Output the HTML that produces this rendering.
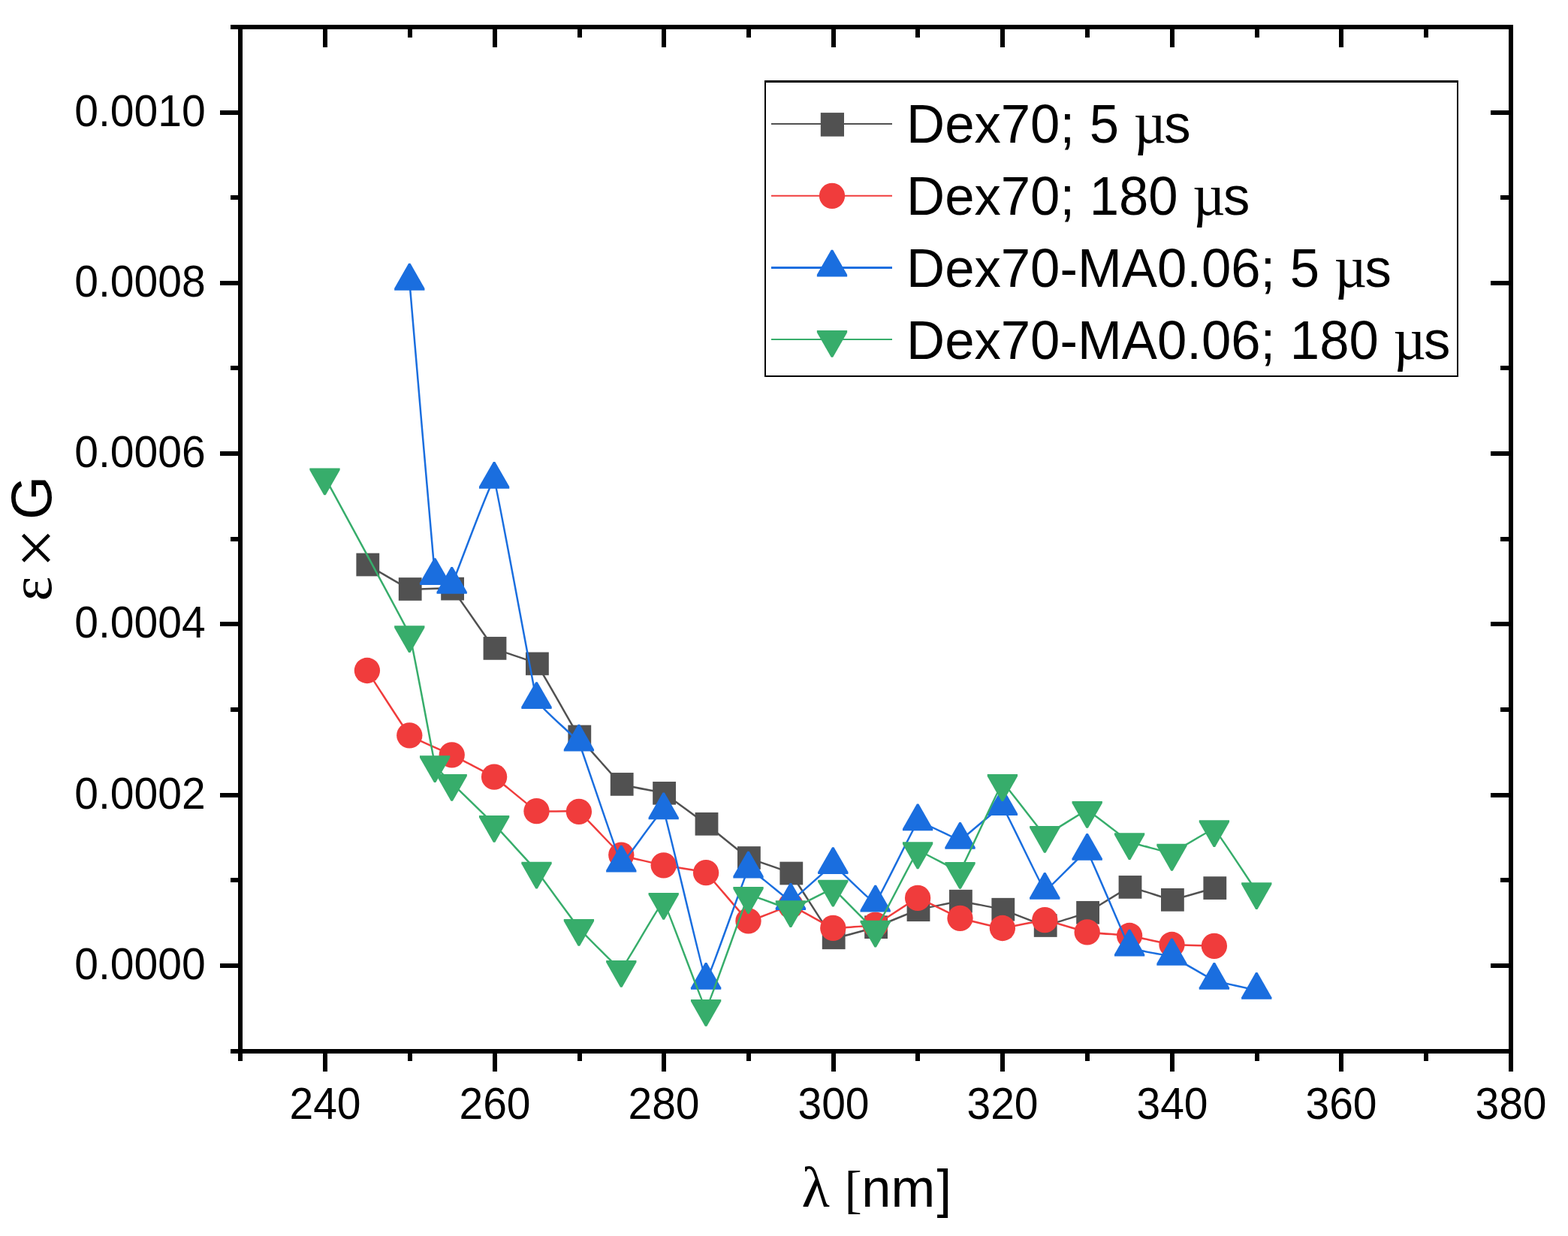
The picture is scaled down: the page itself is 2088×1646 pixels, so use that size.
<!DOCTYPE html>
<html lang="en">
<head>
<meta charset="utf-8">
<title>ε×G vs λ [nm]</title>
<style>
html, body { margin: 0; padding: 0; background: #ffffff; }
body { width: 2088px; height: 1646px; overflow: hidden; font-family: "Liberation Sans", Arial, sans-serif; }
svg { display: block; }
</style>
</head>
<body>
<svg width="2088" height="1646" viewBox="0 0 2088 1646">
<rect x="0" y="0" width="2088" height="1646" fill="#ffffff"/>
<g class="series" fill="#515151" stroke="none">
<path d="M488.9,752 C491.72,753.62 542.48,783.7 545.3,784.5 C548.12,785.3 598.88,782.13 601.7,784.1 C604.52,786.07 655.28,860.9 658.1,863.4 C660.92,865.89 711.68,880.96 714.5,883.9 C717.32,886.84 768.08,976.99 770.9,981 C773.72,985.01 824.48,1042.52 827.3,1044.4 C830.12,1046.28 880.88,1054.98 883.7,1056.3 C886.52,1057.62 937.28,1095.14 940.1,1097.3 C942.92,1099.45 993.68,1140.86 996.5,1142.5 C999.32,1144.14 1050.08,1160.34 1052.9,1163 C1055.72,1165.66 1106.48,1247.01 1109.3,1248.8 C1112.12,1250.59 1162.88,1235.63 1165.7,1234.7 C1168.52,1233.77 1219.28,1212.56 1222.1,1211.7 C1224.92,1210.84 1275.68,1200.21 1278.5,1200.2 C1281.32,1200.19 1332.08,1210.39 1334.9,1211.2 C1337.72,1212.01 1388.48,1232.4 1391.3,1232.5 C1394.12,1232.6 1444.88,1216.58 1447.7,1215.3 C1450.52,1214.02 1501.28,1181.83 1504.1,1181.4 C1506.92,1180.98 1557.68,1198.27 1560.5,1198.3 C1563.32,1198.33 1614.08,1183.38 1616.9,1182.6" fill="none" stroke="#515151" stroke-width="2.5" stroke-linejoin="round"/>
<rect x="474.4" y="736.65" width="30.8" height="30.7"/>
<rect x="530.8" y="769.15" width="30.8" height="30.7"/>
<rect x="587.2" y="768.75" width="30.8" height="30.7"/>
<rect x="643.6" y="848.05" width="30.8" height="30.7"/>
<rect x="700" y="868.55" width="30.8" height="30.7"/>
<rect x="756.4" y="965.65" width="30.8" height="30.7"/>
<rect x="812.8" y="1029.05" width="30.8" height="30.7"/>
<rect x="869.2" y="1040.95" width="30.8" height="30.7"/>
<rect x="925.6" y="1081.95" width="30.8" height="30.7"/>
<rect x="982" y="1127.15" width="30.8" height="30.7"/>
<rect x="1038.4" y="1147.65" width="30.8" height="30.7"/>
<rect x="1094.8" y="1233.45" width="30.8" height="30.7"/>
<rect x="1151.2" y="1219.35" width="30.8" height="30.7"/>
<rect x="1207.6" y="1196.35" width="30.8" height="30.7"/>
<rect x="1264" y="1184.85" width="30.8" height="30.7"/>
<rect x="1320.4" y="1195.85" width="30.8" height="30.7"/>
<rect x="1376.8" y="1217.15" width="30.8" height="30.7"/>
<rect x="1433.2" y="1199.95" width="30.8" height="30.7"/>
<rect x="1489.6" y="1166.05" width="30.8" height="30.7"/>
<rect x="1546" y="1182.95" width="30.8" height="30.7"/>
<rect x="1602.4" y="1167.25" width="30.8" height="30.7"/>
</g>
<g class="series" fill="#F03C3C" stroke="none">
<path d="M488.9,893 C491.72,897.32 542.48,976.49 545.3,979.3 C548.12,982.11 598.88,1003.92 601.7,1005.3 C604.52,1006.68 655.28,1032.73 658.1,1034.6 C660.92,1036.47 711.68,1079.04 714.5,1080.2 C717.32,1081.36 768.08,1079.44 770.9,1080.9 C773.72,1082.36 824.48,1136.81 827.3,1138.6 C830.12,1140.38 880.88,1151.71 883.7,1152.3 C886.52,1152.89 937.28,1160.35 940.1,1162.2 C942.92,1164.05 993.68,1225.31 996.5,1226.4 C999.32,1227.5 1050.08,1205.76 1052.9,1206 C1055.72,1206.24 1106.48,1235.26 1109.3,1235.9 C1112.12,1236.54 1162.88,1232.6 1165.7,1231.6 C1168.52,1230.6 1219.28,1196.12 1222.1,1195.9 C1224.92,1195.68 1275.68,1221.8 1278.5,1222.8 C1281.32,1223.8 1332.08,1235.94 1334.9,1236 C1337.72,1236.06 1388.48,1225.07 1391.3,1225.2 C1394.12,1225.34 1444.88,1240.88 1447.7,1241.4 C1450.52,1241.92 1501.28,1245.59 1504.1,1246 C1506.92,1246.41 1557.68,1257.65 1560.5,1258 C1563.32,1258.35 1614.08,1259.71 1616.9,1259.8" fill="none" stroke="#F03C3C" stroke-width="2.5" stroke-linejoin="round"/>
<circle cx="488.9" cy="893" r="17.15"/>
<circle cx="545.3" cy="979.3" r="17.15"/>
<circle cx="601.7" cy="1005.3" r="17.15"/>
<circle cx="658.1" cy="1034.6" r="17.15"/>
<circle cx="714.5" cy="1080.2" r="17.15"/>
<circle cx="770.9" cy="1080.9" r="17.15"/>
<circle cx="827.3" cy="1138.6" r="17.15"/>
<circle cx="883.7" cy="1152.3" r="17.15"/>
<circle cx="940.1" cy="1162.2" r="17.15"/>
<circle cx="996.5" cy="1226.4" r="17.15"/>
<circle cx="1052.9" cy="1206" r="17.15"/>
<circle cx="1109.3" cy="1235.9" r="17.15"/>
<circle cx="1165.7" cy="1231.6" r="17.15"/>
<circle cx="1222.1" cy="1195.9" r="17.15"/>
<circle cx="1278.5" cy="1222.8" r="17.15"/>
<circle cx="1334.9" cy="1236" r="17.15"/>
<circle cx="1391.3" cy="1225.2" r="17.15"/>
<circle cx="1447.7" cy="1241.4" r="17.15"/>
<circle cx="1504.1" cy="1246" r="17.15"/>
<circle cx="1560.5" cy="1258" r="17.15"/>
<circle cx="1616.9" cy="1259.8" r="17.15"/>
</g>
<g class="series" fill="#1A6EDF" stroke="none">
<path d="M545.3,374.72 C546.99,394.33 577.73,756.91 579.14,767.02 C580.55,777.12 599.73,782.07 601.7,778.87 C603.67,775.66 655.28,634.94 658.1,638.77 C660.92,642.6 711.68,923.27 714.5,932.02 C717.32,940.76 768.08,983.23 770.9,988.67 C773.72,994.11 824.48,1147.35 827.3,1149.62 C830.12,1151.89 880.88,1075.51 883.7,1079.42 C886.52,1083.32 937.28,1303.86 940.1,1305.82 C942.92,1307.77 993.68,1160.16 996.5,1157.52 C999.32,1154.87 1050.08,1200.1 1052.9,1199.97 C1055.72,1199.83 1106.48,1151.95 1109.3,1152.02 C1112.12,1152.08 1162.88,1204.01 1165.7,1202.57 C1168.52,1201.12 1219.28,1096.41 1222.1,1094.32 C1224.92,1092.22 1275.68,1119.37 1278.5,1118.87 C1281.32,1118.36 1332.08,1072.39 1334.9,1074.07 C1337.72,1075.74 1388.48,1184.32 1391.3,1185.82 C1394.12,1187.31 1444.88,1131.97 1447.7,1133.87 C1450.52,1135.76 1501.28,1258.12 1504.1,1261.62 C1506.92,1265.11 1557.68,1272.61 1560.5,1273.72 C1563.32,1274.82 1614.08,1304.79 1616.9,1305.92 C1619.72,1307.04 1670.48,1318.17 1673.3,1318.82" fill="none" stroke="#1A6EDF" stroke-width="2.5" stroke-linejoin="round"/>
<polygon points="544.1,350.85 546.5,350.85 565.45,384.05 565.45,386.65 525.15,386.65 525.15,384.05"/>
<polygon points="577.94,743.15 580.34,743.15 599.29,776.35 599.29,778.95 558.99,778.95 558.99,776.35"/>
<polygon points="600.5,755 602.9,755 621.85,788.2 621.85,790.8 581.55,790.8 581.55,788.2"/>
<polygon points="656.9,614.9 659.3,614.9 678.25,648.1 678.25,650.7 637.95,650.7 637.95,648.1"/>
<polygon points="713.3,908.15 715.7,908.15 734.65,941.35 734.65,943.95 694.35,943.95 694.35,941.35"/>
<polygon points="769.7,964.8 772.1,964.8 791.05,998 791.05,1000.6 750.75,1000.6 750.75,998"/>
<polygon points="826.1,1125.75 828.5,1125.75 847.45,1158.95 847.45,1161.55 807.15,1161.55 807.15,1158.95"/>
<polygon points="882.5,1055.55 884.9,1055.55 903.85,1088.75 903.85,1091.35 863.55,1091.35 863.55,1088.75"/>
<polygon points="938.9,1281.95 941.3,1281.95 960.25,1315.15 960.25,1317.75 919.95,1317.75 919.95,1315.15"/>
<polygon points="995.3,1133.65 997.7,1133.65 1016.65,1166.85 1016.65,1169.45 976.35,1169.45 976.35,1166.85"/>
<polygon points="1051.7,1176.1 1054.1,1176.1 1073.05,1209.3 1073.05,1211.9 1032.75,1211.9 1032.75,1209.3"/>
<polygon points="1108.1,1128.15 1110.5,1128.15 1129.45,1161.35 1129.45,1163.95 1089.15,1163.95 1089.15,1161.35"/>
<polygon points="1164.5,1178.7 1166.9,1178.7 1185.85,1211.9 1185.85,1214.5 1145.55,1214.5 1145.55,1211.9"/>
<polygon points="1220.9,1070.45 1223.3,1070.45 1242.25,1103.65 1242.25,1106.25 1201.95,1106.25 1201.95,1103.65"/>
<polygon points="1277.3,1095 1279.7,1095 1298.65,1128.2 1298.65,1130.8 1258.35,1130.8 1258.35,1128.2"/>
<polygon points="1333.7,1050.2 1336.1,1050.2 1355.05,1083.4 1355.05,1086 1314.75,1086 1314.75,1083.4"/>
<polygon points="1390.1,1161.95 1392.5,1161.95 1411.45,1195.15 1411.45,1197.75 1371.15,1197.75 1371.15,1195.15"/>
<polygon points="1446.5,1110 1448.9,1110 1467.85,1143.2 1467.85,1145.8 1427.55,1145.8 1427.55,1143.2"/>
<polygon points="1502.9,1237.75 1505.3,1237.75 1524.25,1270.95 1524.25,1273.55 1483.95,1273.55 1483.95,1270.95"/>
<polygon points="1559.3,1249.85 1561.7,1249.85 1580.65,1283.05 1580.65,1285.65 1540.35,1285.65 1540.35,1283.05"/>
<polygon points="1615.7,1282.05 1618.1,1282.05 1637.05,1315.25 1637.05,1317.85 1596.75,1317.85 1596.75,1315.25"/>
<polygon points="1672.1,1294.95 1674.5,1294.95 1693.45,1328.15 1693.45,1330.75 1653.15,1330.75 1653.15,1328.15"/>
</g>
<g class="series" fill="#37AD6B" stroke="none">
<path d="M432.5,635.33 C438.14,645.83 541.63,835.66 545.3,845.23 C548.97,854.81 577.73,1013.29 579.14,1018.23 C580.55,1023.17 599.73,1040.84 601.7,1042.83 C603.67,1044.83 655.28,1095.01 658.1,1097.93 C660.92,1100.85 711.68,1156.13 714.5,1159.58 C717.32,1163.03 768.08,1232.7 770.9,1235.98 C773.72,1239.26 824.48,1291.71 827.3,1290.83 C830.12,1289.96 880.88,1199.63 883.7,1200.93 C886.52,1202.24 937.28,1343.13 940.1,1342.93 C942.92,1342.74 993.68,1196.33 996.5,1193.03 C999.32,1189.74 1050.08,1211.37 1052.9,1211.13 C1055.72,1210.9 1106.48,1183.02 1109.3,1183.68 C1112.12,1184.35 1162.88,1238.89 1165.7,1237.63 C1168.52,1236.37 1219.28,1135.23 1222.1,1133.28 C1224.92,1131.34 1275.68,1162.09 1278.5,1159.83 C1281.32,1157.58 1332.08,1044.23 1334.9,1043.03 C1337.72,1041.84 1388.48,1111.04 1391.3,1111.93 C1394.12,1112.83 1444.88,1078.7 1447.7,1078.93 C1450.52,1079.16 1501.28,1119.66 1504.1,1121.08 C1506.92,1122.5 1557.68,1136.21 1560.5,1135.78 C1563.32,1135.36 1614.08,1102.8 1616.9,1104.08 C1619.72,1105.37 1670.48,1183.03 1673.3,1187.18" fill="none" stroke="#37AD6B" stroke-width="2.5" stroke-linejoin="round"/>
<polygon points="412.35,623.4 452.65,623.4 452.65,626 433.7,659.2 431.3,659.2 412.35,626"/>
<polygon points="525.15,833.3 565.45,833.3 565.45,835.9 546.5,869.1 544.1,869.1 525.15,835.9"/>
<polygon points="558.99,1006.3 599.29,1006.3 599.29,1008.9 580.34,1042.1 577.94,1042.1 558.99,1008.9"/>
<polygon points="581.55,1030.9 621.85,1030.9 621.85,1033.5 602.9,1066.7 600.5,1066.7 581.55,1033.5"/>
<polygon points="637.95,1086 678.25,1086 678.25,1088.6 659.3,1121.8 656.9,1121.8 637.95,1088.6"/>
<polygon points="694.35,1147.65 734.65,1147.65 734.65,1150.25 715.7,1183.45 713.3,1183.45 694.35,1150.25"/>
<polygon points="750.75,1224.05 791.05,1224.05 791.05,1226.65 772.1,1259.85 769.7,1259.85 750.75,1226.65"/>
<polygon points="807.15,1278.9 847.45,1278.9 847.45,1281.5 828.5,1314.7 826.1,1314.7 807.15,1281.5"/>
<polygon points="863.55,1189 903.85,1189 903.85,1191.6 884.9,1224.8 882.5,1224.8 863.55,1191.6"/>
<polygon points="919.95,1331 960.25,1331 960.25,1333.6 941.3,1366.8 938.9,1366.8 919.95,1333.6"/>
<polygon points="976.35,1181.1 1016.65,1181.1 1016.65,1183.7 997.7,1216.9 995.3,1216.9 976.35,1183.7"/>
<polygon points="1032.75,1199.2 1073.05,1199.2 1073.05,1201.8 1054.1,1235 1051.7,1235 1032.75,1201.8"/>
<polygon points="1089.15,1171.75 1129.45,1171.75 1129.45,1174.35 1110.5,1207.55 1108.1,1207.55 1089.15,1174.35"/>
<polygon points="1145.55,1225.7 1185.85,1225.7 1185.85,1228.3 1166.9,1261.5 1164.5,1261.5 1145.55,1228.3"/>
<polygon points="1201.95,1121.35 1242.25,1121.35 1242.25,1123.95 1223.3,1157.15 1220.9,1157.15 1201.95,1123.95"/>
<polygon points="1258.35,1147.9 1298.65,1147.9 1298.65,1150.5 1279.7,1183.7 1277.3,1183.7 1258.35,1150.5"/>
<polygon points="1314.75,1031.1 1355.05,1031.1 1355.05,1033.7 1336.1,1066.9 1333.7,1066.9 1314.75,1033.7"/>
<polygon points="1371.15,1100 1411.45,1100 1411.45,1102.6 1392.5,1135.8 1390.1,1135.8 1371.15,1102.6"/>
<polygon points="1427.55,1067 1467.85,1067 1467.85,1069.6 1448.9,1102.8 1446.5,1102.8 1427.55,1069.6"/>
<polygon points="1483.95,1109.15 1524.25,1109.15 1524.25,1111.75 1505.3,1144.95 1502.9,1144.95 1483.95,1111.75"/>
<polygon points="1540.35,1123.85 1580.65,1123.85 1580.65,1126.45 1561.7,1159.65 1559.3,1159.65 1540.35,1126.45"/>
<polygon points="1596.75,1092.15 1637.05,1092.15 1637.05,1094.75 1618.1,1127.95 1615.7,1127.95 1596.75,1094.75"/>
<polygon points="1653.15,1175.25 1693.45,1175.25 1693.45,1177.85 1674.5,1211.05 1672.1,1211.05 1653.15,1177.85"/>
</g>
<g fill="#000000" stroke="none" shape-rendering="crispEdges">
<rect x="307" y="33" width="1708" height="6"/>
<rect x="307" y="1397" width="1708" height="6"/>
<rect x="317" y="33" width="6" height="1380"/>
<rect x="2009" y="33" width="6" height="1394"/>
<rect x="430" y="1403" width="6" height="24"/>
<rect x="430" y="39" width="6" height="24"/>
<rect x="543" y="1403" width="6" height="10"/>
<rect x="543" y="39" width="6" height="11"/>
<rect x="656" y="1403" width="6" height="24"/>
<rect x="656" y="39" width="6" height="24"/>
<rect x="769" y="1403" width="6" height="10"/>
<rect x="769" y="39" width="6" height="11"/>
<rect x="881" y="1403" width="6" height="24"/>
<rect x="881" y="39" width="6" height="24"/>
<rect x="994" y="1403" width="6" height="10"/>
<rect x="994" y="39" width="6" height="11"/>
<rect x="1107" y="1403" width="6" height="24"/>
<rect x="1107" y="39" width="6" height="24"/>
<rect x="1219" y="1403" width="6" height="10"/>
<rect x="1219" y="39" width="6" height="11"/>
<rect x="1332" y="1403" width="6" height="24"/>
<rect x="1332" y="39" width="6" height="24"/>
<rect x="1445" y="1403" width="6" height="10"/>
<rect x="1445" y="39" width="6" height="11"/>
<rect x="1558" y="1403" width="6" height="24"/>
<rect x="1558" y="39" width="6" height="24"/>
<rect x="1671" y="1403" width="6" height="10"/>
<rect x="1671" y="39" width="6" height="11"/>
<rect x="1783" y="1403" width="6" height="24"/>
<rect x="1783" y="39" width="6" height="24"/>
<rect x="1896" y="1403" width="6" height="10"/>
<rect x="1896" y="39" width="6" height="11"/>
<rect x="293" y="1283" width="24" height="6"/>
<rect x="1985" y="1283" width="24" height="6"/>
<rect x="307" y="1169" width="10" height="6"/>
<rect x="1998" y="1169" width="11" height="6"/>
<rect x="293" y="1056" width="24" height="6"/>
<rect x="1985" y="1056" width="24" height="6"/>
<rect x="307" y="942" width="10" height="6"/>
<rect x="1998" y="942" width="11" height="6"/>
<rect x="293" y="828" width="24" height="6"/>
<rect x="1985" y="828" width="24" height="6"/>
<rect x="307" y="715" width="10" height="6"/>
<rect x="1998" y="715" width="11" height="6"/>
<rect x="293" y="601" width="24" height="6"/>
<rect x="1985" y="601" width="24" height="6"/>
<rect x="307" y="487" width="10" height="6"/>
<rect x="1998" y="487" width="11" height="6"/>
<rect x="293" y="374" width="24" height="6"/>
<rect x="1985" y="374" width="24" height="6"/>
<rect x="307" y="260" width="10" height="6"/>
<rect x="1998" y="260" width="11" height="6"/>
<rect x="293" y="147" width="24" height="6"/>
<rect x="1985" y="147" width="24" height="6"/>
</g>
<g font-family="'Liberation Sans', Arial, sans-serif" fill="#000000">
<text transform="translate(433 1489.6) scale(1 1.03)" font-size="57" text-anchor="middle">240</text>
<text transform="translate(659 1489.6) scale(1 1.03)" font-size="57" text-anchor="middle">260</text>
<text transform="translate(884 1489.6) scale(1 1.03)" font-size="57" text-anchor="middle">280</text>
<text transform="translate(1110 1489.6) scale(1 1.03)" font-size="57" text-anchor="middle">300</text>
<text transform="translate(1335 1489.6) scale(1 1.03)" font-size="57" text-anchor="middle">320</text>
<text transform="translate(1561 1489.6) scale(1 1.03)" font-size="57" text-anchor="middle">340</text>
<text transform="translate(1786 1489.6) scale(1 1.03)" font-size="57" text-anchor="middle">360</text>
<text transform="translate(2012 1489.6) scale(1 1.03)" font-size="57" text-anchor="middle">380</text>
<text transform="translate(273.6 1303.6) scale(1 1.03)" font-size="57" text-anchor="end">0.0000</text>
<text transform="translate(273.6 1076.6) scale(1 1.03)" font-size="57" text-anchor="end">0.0002</text>
<text transform="translate(273.6 848.6) scale(1 1.03)" font-size="57" text-anchor="end">0.0004</text>
<text transform="translate(273.6 621.6) scale(1 1.03)" font-size="57" text-anchor="end">0.0006</text>
<text transform="translate(273.6 394.6) scale(1 1.03)" font-size="57" text-anchor="end">0.0008</text>
<text transform="translate(273.6 167.6) scale(1 1.03)" font-size="57" text-anchor="end">0.0010</text>
</g>
<g font-family="'Liberation Sans', Arial, sans-serif" fill="#000000">
<text transform="translate(1067.5 1607)" font-size="77" font-family="'Liberation Serif', 'Times New Roman', serif">λ</text>
<text transform="translate(1124.5 1608.2)" font-size="70" font-family="'Liberation Serif', 'Times New Roman', serif">[</text>
<text transform="translate(1147.3 1606.7) scale(1 1.03)" font-size="70.5">nm</text>
<text transform="translate(1247.5 1606.7)" font-size="70.5">]</text>
<text transform="translate(68 800.5) rotate(-90)" font-size="78" font-family="'Liberation Serif', 'Times New Roman', serif">ε</text>
<text transform="translate(78.9 756.1) rotate(-90)" font-size="93" font-family="'Liberation Serif', 'Times New Roman', serif">×</text>
<text transform="translate(68.3 692) rotate(-90) scale(1 1.03)" font-size="74.5">G</text>
</g>
<g class="legend">
<rect x="1018" y="107" width="924" height="395" fill="#ffffff"/>
<g fill="#000000" shape-rendering="crispEdges"><rect x="1018" y="107" width="924" height="3"/><rect x="1018" y="500" width="924" height="2"/><rect x="1018" y="107" width="2" height="395"/><rect x="1940" y="107" width="2" height="395"/></g>
<line x1="1027" y1="165" x2="1188" y2="165" stroke="#515151" stroke-width="2"/>
<g fill="#515151"><rect x="1092.8" y="150.1" width="31.2" height="31.6"/></g>
<text transform="translate(1207.1 189.5) scale(1 1.03)" font-size="70.7" font-family="'Liberation Sans', Arial, sans-serif" fill="#000000">Dex70; 5 <tspan font-family="'Liberation Serif', 'Times New Roman', serif" font-size="75">µ</tspan><tspan dx="-2.6">s</tspan></text>
<line x1="1027" y1="260.8" x2="1188" y2="260.8" stroke="#F03C3C" stroke-width="2"/>
<g fill="#F03C3C"><circle cx="1108" cy="260.8" r="17.15"/></g>
<text transform="translate(1207.1 285.7) scale(1 1.03)" font-size="70.7" font-family="'Liberation Sans', Arial, sans-serif" fill="#000000">Dex70; 180 <tspan font-family="'Liberation Serif', 'Times New Roman', serif" font-size="75">µ</tspan><tspan dx="-2.6">s</tspan></text>
<line x1="1027" y1="356.5" x2="1188" y2="356.5" stroke="#1A6EDF" stroke-width="3"/>
<g fill="#1A6EDF"><polygon points="1106.8,332.63 1109.2,332.63 1128.15,365.83 1128.15,368.43 1087.85,368.43 1087.85,365.83"/></g>
<text transform="translate(1207.1 381.5) scale(1 1.03)" font-size="70.7" font-family="'Liberation Sans', Arial, sans-serif" fill="#000000">Dex70-MA0.06; 5 <tspan font-family="'Liberation Serif', 'Times New Roman', serif" font-size="75">µ</tspan><tspan dx="-2.6">s</tspan></text>
<line x1="1027" y1="452" x2="1188" y2="452" stroke="#37AD6B" stroke-width="2"/>
<g fill="#37AD6B"><polygon points="1087.85,440.07 1128.15,440.07 1128.15,442.67 1109.2,475.87 1106.8,475.87 1087.85,442.67"/></g>
<text transform="translate(1207.1 477.5) scale(1 1.03)" font-size="70.7" font-family="'Liberation Sans', Arial, sans-serif" fill="#000000">Dex70-MA0.06; 180 <tspan font-family="'Liberation Serif', 'Times New Roman', serif" font-size="75">µ</tspan><tspan dx="-2.6">s</tspan></text>
</g>
</svg>
</body>
</html>
